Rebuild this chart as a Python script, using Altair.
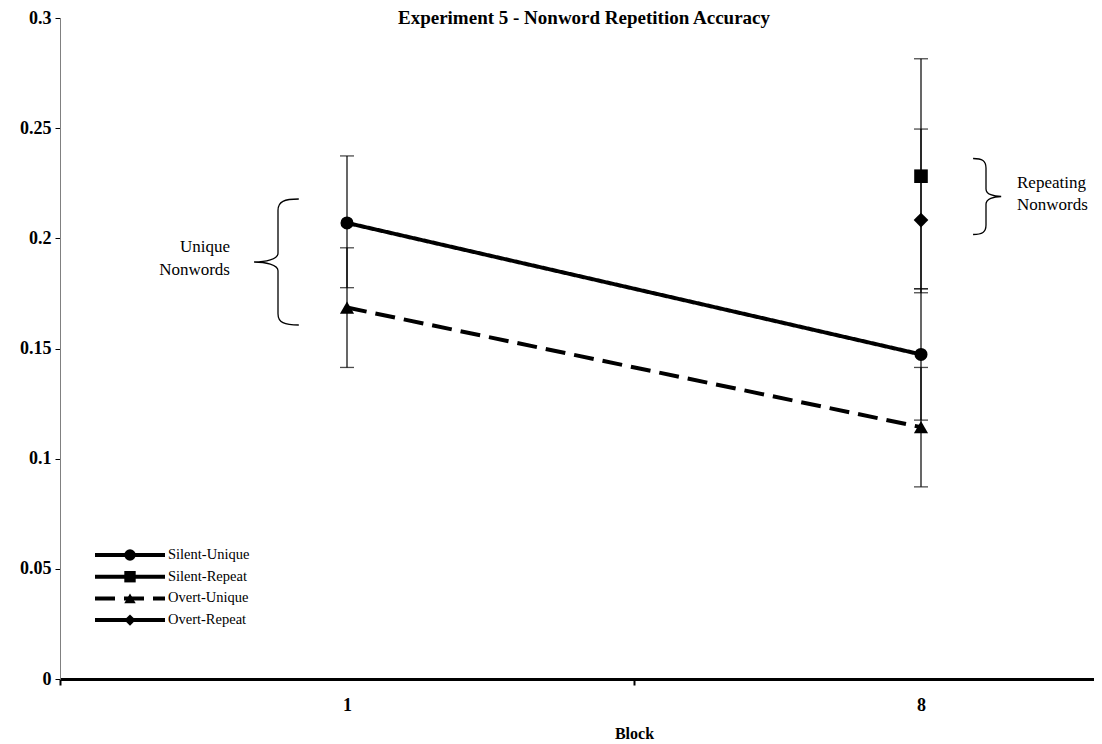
import altair as alt
import pandas as pd

# ---------------- data ----------------
blocks = ["1", "8"]
series = ["Silent-Unique", "Silent-Repeat", "Overt-Unique", "Overt-Repeat"]

silent_unique = [0.207, 0.1473]
silent_repeat = [None, 0.2282]
overt_unique = [0.1686, 0.1143]
overt_repeat = [None, 0.2083]

silent_unique_hi = [0.2374, 0.1771]
silent_unique_lo = [0.1776, 0.1175]
silent_repeat_hi = [None, 0.2815]
silent_repeat_lo = [None, 0.1753]
overt_unique_hi = [0.1957, 0.1414]
overt_unique_lo = [0.1414, 0.0872]
overt_repeat_hi = [None, 0.2496]
overt_repeat_lo = [None, 0.1771]

y_ticks = [0, 0.05, 0.1, 0.15, 0.2, 0.25, 0.3]
title_text = "Experiment 5 - Nonword Repetition Accuracy"
unique_note = ["Unique", "Nonwords"]
repeat_note = ["Repeating", "Nonwords"]

# ---------------- styles ----------------
shapes = ["circle", "square", "triangle-up", "diamond"]
dashes = [[1, 0], [1, 0], [20, 9], [1, 0]]
sizes = [170, 215, 200, 230]
FONT = "Liberation Serif"

vals = [silent_unique, silent_repeat, overt_unique, overt_repeat]
his = [silent_unique_hi, silent_repeat_hi, overt_unique_hi, overt_repeat_hi]
los = [silent_unique_lo, silent_repeat_lo, overt_unique_lo, overt_repeat_lo]

rows = []
for s, v, h, l in zip(series, vals, his, los):
    for i, b in enumerate(blocks):
        if v[i] is not None:
            rows.append({"block": b, "series": s, "value": v[i], "hi": h[i], "lo": l[i]})
df = pd.DataFrame(rows)

x_scale = alt.Scale(type="band", domain=blocks, paddingInner=0, paddingOuter=0, range=[0, 1148])
x_enc = alt.X(
    "block:O",
    sort=blocks,
    scale=x_scale,
    axis=alt.Axis(
        title="Block",
        labelAngle=0,
        domainColor="black",
        domainWidth=3,
        tickBand="extent",
        tickColor="black",
        tickSize=6,
        tickWidth=2,
        labelFont=FONT,
        labelFontSize=18,
        labelFontWeight="bold",
        labelColor="black",
        labelPadding=11,
        titleFont=FONT,
        titleFontSize=16,
        titleFontWeight="bold",
        titleColor="black",
        titlePadding=11,
    ),
)
y_scale = alt.Scale(domain=[0, 0.3], nice=False, zero=True)
y_enc = alt.Y(
    "value:Q",
    scale=y_scale,
    axis=alt.Axis(
        title=None,
        values=y_ticks,
        format="~g",
        grid=False,
        domainColor="#808080",
        domainWidth=1,
        tickColor="black",
        tickSize=5,
        tickWidth=1,
        labelFont=FONT,
        labelFontSize=18,
        labelFontWeight="bold",
        labelColor="black",
        labelPadding=4,
    ),
)

dash_scale = alt.Scale(domain=series, range=dashes)
shape_scale = alt.Scale(domain=series, range=shapes)
size_scale = alt.Scale(domain=series, range=sizes)

base = alt.Chart(df)

lines = base.transform_filter(
    alt.FieldOneOfPredicate(field="series", oneOf=["Silent-Unique", "Overt-Unique"])
).mark_line(color="black", strokeWidth=4).encode(
    x=x_enc,
    y=y_enc,
    detail="series:N",
    strokeDash=alt.StrokeDash("series:N", scale=dash_scale, legend=None),
)

err = base.mark_rule(color="black", strokeWidth=1.2).encode(
    x=alt.X("block:O", sort=blocks),
    y=alt.Y("lo:Q", scale=y_scale),
    y2="hi:Q",
)
cap_hi = base.mark_tick(color="black", thickness=1.3, size=14, orient="horizontal").encode(
    x=alt.X("block:O", sort=blocks), y=alt.Y("hi:Q", scale=y_scale)
)
cap_lo = base.mark_tick(color="black", thickness=1.3, size=14, orient="horizontal").encode(
    x=alt.X("block:O", sort=blocks), y=alt.Y("lo:Q", scale=y_scale)
)

points = base.mark_point(filled=True, color="black", opacity=1).encode(
    x=alt.X("block:O", sort=blocks),
    y=alt.Y("value:Q", scale=y_scale),
    shape=alt.Shape("series:N", scale=shape_scale, legend=None),
    size=alt.Size("series:N", scale=size_scale, legend=None),
)

# ---------------- manual legend ----------------
leg = alt.Chart(pd.DataFrame({"series": series, "idx": list(range(len(series)))})).transform_calculate(
    ly="537 + 21.7 * datum.idx"
)
leg_lines = leg.mark_rule(color="black", strokeWidth=4).encode(
    x=alt.value(35),
    x2=alt.value(105),
    y=alt.Y("ly:Q", scale=None),
    strokeDash=alt.StrokeDash("series:N", scale=dash_scale, legend=None),
)
leg_pts = leg.mark_point(filled=True, color="black", opacity=1, size=130).encode(
    x=alt.value(70),
    y=alt.Y("ly:Q", scale=None),
    shape=alt.Shape("series:N", scale=shape_scale, legend=None),
)
leg_txt = leg.mark_text(align="left", baseline="middle", font=FONT, fontSize=14.5, color="black").encode(
    x=alt.value(108),
    y=alt.Y("ly:Q", scale=None),
    text="series:N",
)

# ---------------- annotations ----------------
left_brace = "M0.33,-1 C0.1,-1 0,-0.96 0,-0.82 L0,-0.14 C0,-0.04 -0.2,0 -0.38,0 C-0.2,0 0,0.04 0,0.14 L0,0.82 C0,0.96 0.1,1 0.33,1"
right_brace = "M-0.34,-1 C-0.1,-1 0,-0.94 0,-0.75 L0,-0.2 C0,-0.06 0.2,0 0.4,0 C0.2,0 0,0.06 0,0.2 L0,0.75 C0,0.94 -0.1,1 -0.34,1"

one = pd.DataFrame({"k": [0]})
brace_l = alt.Chart(one).mark_point(
    shape=left_brace, size=15876, filled=False, stroke="black", strokeWidth=1.3, opacity=1
).encode(x=alt.value(218), y=alt.value(244))
brace_r = alt.Chart(one).mark_point(
    shape=right_brace, size=5776, filled=False, stroke="black", strokeWidth=1.3, opacity=1
).encode(x=alt.value(926), y=alt.value(178.5))

note_l = alt.Chart(one).mark_text(
    text=unique_note, align="right", baseline="middle", font=FONT, fontSize=17,
    lineHeight=23, color="black"
).encode(x=alt.value(170), y=alt.value(229))
note_r = alt.Chart(one).mark_text(
    text=repeat_note, align="left", baseline="middle", font=FONT, fontSize=17,
    lineHeight=22, color="black"
).encode(x=alt.value(957), y=alt.value(165))

title = alt.Chart(one).mark_text(
    text=title_text, align="center", baseline="alphabetic", font=FONT, fontSize=19,
    fontWeight="bold", color="black"
).encode(x=alt.value(524), y=alt.value(6))

chart = alt.layer(
    lines, err, cap_hi, cap_lo, points,
    leg_lines, leg_pts, leg_txt,
    brace_l, brace_r, note_l, note_r, title,
).properties(
    width=1034,
    height=661,
    autosize="none",
    padding={"left": 52, "top": 10, "right": 0, "bottom": 65},
    background="white",
).configure(font=FONT).configure_view(stroke=None)

chart.save("out.html", embed_options={"renderer": "svg", "actions": False})
